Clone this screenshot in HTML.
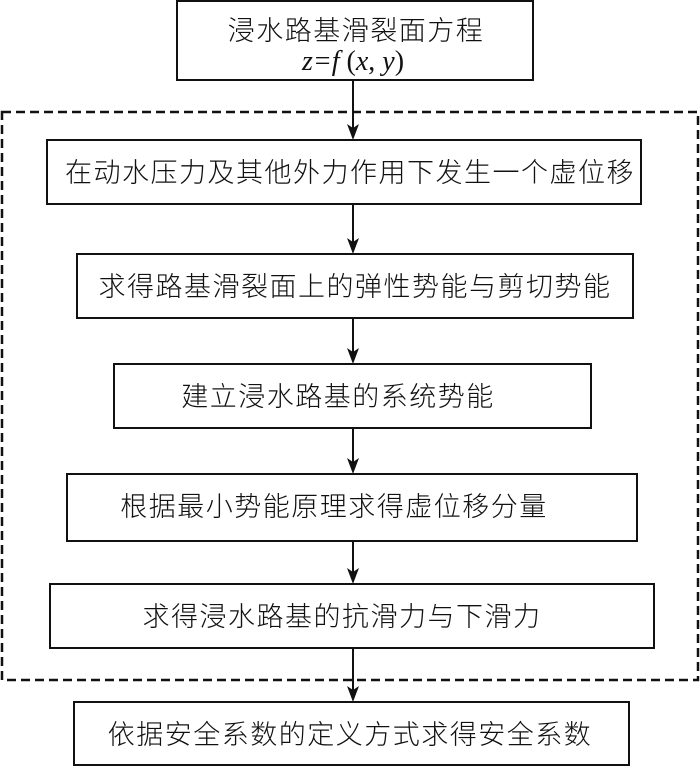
<!DOCTYPE html>
<html><head><meta charset="utf-8"><style>
html,body{margin:0;padding:0;background:#fff;}
svg text{font-family:"Noto Sans CJK SC",sans-serif;font-size:27px;font-weight:300;fill:#111;}
</style></head><body>
<svg width="700" height="767" viewBox="0 0 700 767" xmlns="http://www.w3.org/2000/svg">
<rect x="2" y="112" width="696" height="568" fill="none" stroke="#111" stroke-width="2.5" stroke-dasharray="9,5"/>
<g fill="#fff" stroke="#111" stroke-width="2">
<rect x="177" y="1" width="356" height="79"/>
<rect x="47" y="140" width="594" height="64"/>
<rect x="77" y="254" width="556" height="64"/>
<rect x="114" y="364" width="477" height="64"/>
<rect x="67" y="474" width="570" height="67"/>
<rect x="50" y="584" width="604" height="64"/>
<rect x="74" y="702" width="555" height="63"/>
</g>
<g stroke="#111" stroke-width="2">
<line x1="353" y1="80" x2="353" y2="130"/>
<line x1="353" y1="204" x2="353" y2="244"/>
<line x1="353" y1="318" x2="353" y2="354"/>
<line x1="353" y1="428" x2="353" y2="464"/>
<line x1="353" y1="541" x2="353" y2="574"/>
<line x1="353" y1="648" x2="353" y2="692"/>
</g>
<g fill="#111">
<path d="M347,124 L353,128 L359,124 L353,140 Z"/>
<path d="M347,238 L353,242 L359,238 L353,254 Z"/>
<path d="M347,348 L353,352 L359,348 L353,364 Z"/>
<path d="M347,458 L353,462 L359,458 L353,474 Z"/>
<path d="M347,568 L353,572 L359,568 L353,584 Z"/>
<path d="M347,686 L353,690 L359,686 L353,702 Z"/>
</g>
<g text-anchor="middle" letter-spacing="1.5">
<text x="356" y="40">浸水路基滑裂面方程</text>
<text x="350" y="182">在动水压力及其他外力作用下发生一个虚位移</text>
<text x="355" y="296">求得路基滑裂面上的弹性势能与剪切势能</text>
<text x="338" y="406">建立浸水路基的系统势能</text>
<text x="334" y="516">根据最小势能原理求得虚位移分量</text>
<text x="342" y="626">求得浸水路基的抗滑力与下滑力</text>
<text x="350" y="744">依据安全系数的定义方式求得安全系数</text>
</g>
<text x="353" y="70" text-anchor="middle" style="font-family:'Liberation Serif',serif;font-style:italic;font-size:28px;font-weight:normal;">z=f<tspan font-style="normal"> (</tspan>x<tspan font-style="normal">, </tspan>y<tspan font-style="normal">)</tspan></text>
</svg>
</body></html>
